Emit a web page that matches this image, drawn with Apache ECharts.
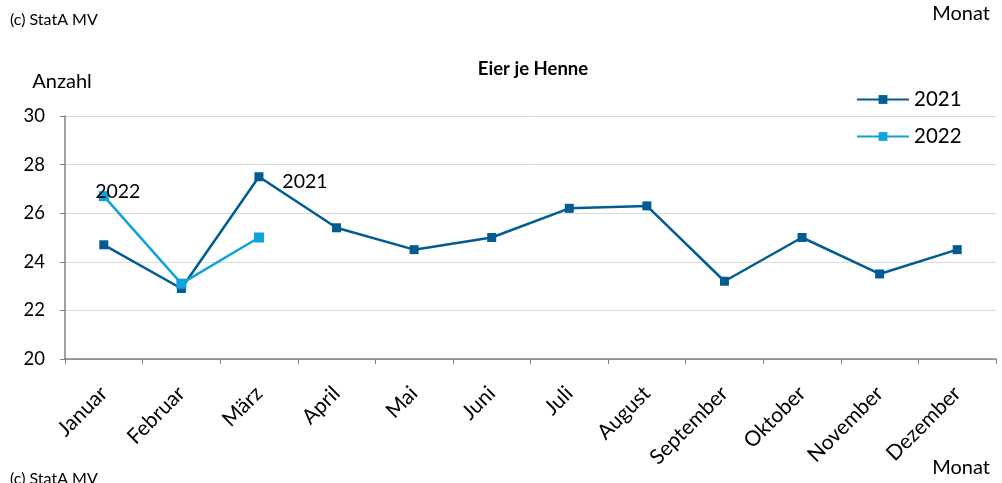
<!DOCTYPE html>
<html>
<head>
<meta charset="utf-8">
<script src="https://cdn.jsdelivr.net/npm/echarts@6/dist/echarts.min.js"></script>
<style>
    html, body {margin: 0; padding: 0; background: #fff;}
    #chart {width: 1002px; height: 483px;}
</style>
</head>
<body>
<div id="chart"></div>
<script>
    // Monate der x-Achse
    const months = ['Januar', 'Februar', 'März', 'April', 'Mai', 'Juni', 'Juli', 'August',
        'September', 'Oktober', 'November', 'Dezember'];
    // Eier je Henne
    const values2021 = [24.7, 22.9, 27.5, 25.4, 24.5, 25.0, 26.2, 26.3, 23.2, 25.0, 23.5, 24.5];
    const values2022 = [26.7, 23.1, 25.0];
    const yTicks = [20, 22, 24, 26, 28, 30];

    const fontFamily = 'Lato, "Liberation Sans", sans-serif';
    const color2021 = '#005C91';
    const color2022 = '#10A2DA';

    // Beschriftung mit dem Jahr an einem einzelnen Punkt
    function withYearLabel(values, index, name, offset) {
        return values.map((v, i) => i !== index ? v : {
            value: v,
            label: {
                show: true,
                position: 'inside',
                offset: offset,
                formatter: name,
                color: '#000',
                fontSize: 19.5,
                fontFamily: fontFamily
            }
        });
    }

    const chart = echarts.init(document.getElementById('chart'), null, {renderer: 'canvas'});
    chart.setOption({
        animation: false,
        backgroundColor: '#fff',
        textStyle: {fontFamily: fontFamily},
        title: {
            text: 'Eier je Henne',
            left: 528,
            top: 55,
            textAlign: 'center',
            textStyle: {fontSize: 18.5, fontWeight: 'bold', color: '#000', fontFamily: fontFamily}
        },
        legend: {
            orient: 'vertical',
            left: 851,
            top: 84,
            itemWidth: 52,
            itemHeight: 11,
            itemGap: 16,
            textStyle: {fontSize: 20.5, color: '#000', fontFamily: fontFamily},
            data: ['2021', '2022']
        },
        grid: {left: 65, right: 6, top: 116, bottom: 124},
        xAxis: {
            type: 'category',
            data: months,
            boundaryGap: true,
            axisLine: {lineStyle: {color: '#808080', width: 1.5}},
            axisTick: {show: true, interval: 0, length: 5, lineStyle: {color: '#808080'}},
            axisLabel: {interval: 0, rotate: 45, margin: 31, fontSize: 21, color: '#000', fontFamily: fontFamily},
            splitLine: {show: false}
        },
        yAxis: {
            type: 'value',
            min: yTicks[0],
            max: yTicks[yTicks.length - 1],
            interval: 2,
            name: 'Anzahl',
            nameLocation: 'end',
            nameGap: 24,
            nameTextStyle: {fontSize: 20, color: '#000', align: 'center', padding: [0, 0, 0, -6], fontFamily: fontFamily},
            axisLine: {show: true, lineStyle: {color: '#808080', width: 1.5}},
            axisTick: {show: true, length: 5, lineStyle: {color: '#808080'}},
            axisLabel: {fontSize: 18.5, color: '#000', margin: 20, fontFamily: fontFamily},
            splitLine: {show: true, lineStyle: {color: '#d9d9d9', width: 1}}
        },
        series: [
            {
                name: '2021',
                type: 'line',
                data: withYearLabel(values2021, 2, '2021', [46, 5]),
                symbol: 'rect',
                symbolSize: 9,
                color: color2021,
                lineStyle: {width: 2.5, color: color2021},
                itemStyle: {color: color2021},
                z: 2
            },
            {
                name: '2022',
                type: 'line',
                data: withYearLabel(values2022, 0, '2022', [14, -4]),
                symbol: 'rect',
                symbolSize: 10,
                color: color2022,
                lineStyle: {width: 2.5, color: color2022},
                itemStyle: {color: color2022},
                z: 3
            }
        ],
        graphic: [
            {type: 'text', left: 10, top: 12, style: {text: '(c) StatA MV', fontSize: 16, fill: '#000', fontFamily: fontFamily}},
            {type: 'text', left: 10, top: 471, style: {text: '(c) StatA MV', fontSize: 16, fill: '#000', fontFamily: fontFamily}},
            {type: 'text', right: 12, top: 4, style: {text: 'Monat', fontSize: 20, fill: '#000', fontFamily: fontFamily}},
            {type: 'text', right: 12, top: 458, style: {text: 'Monat', fontSize: 20, fill: '#000', fontFamily: fontFamily}}
        ]
    });

    window.addEventListener('resize', () => chart.resize());
</script>
</body>
</html>
